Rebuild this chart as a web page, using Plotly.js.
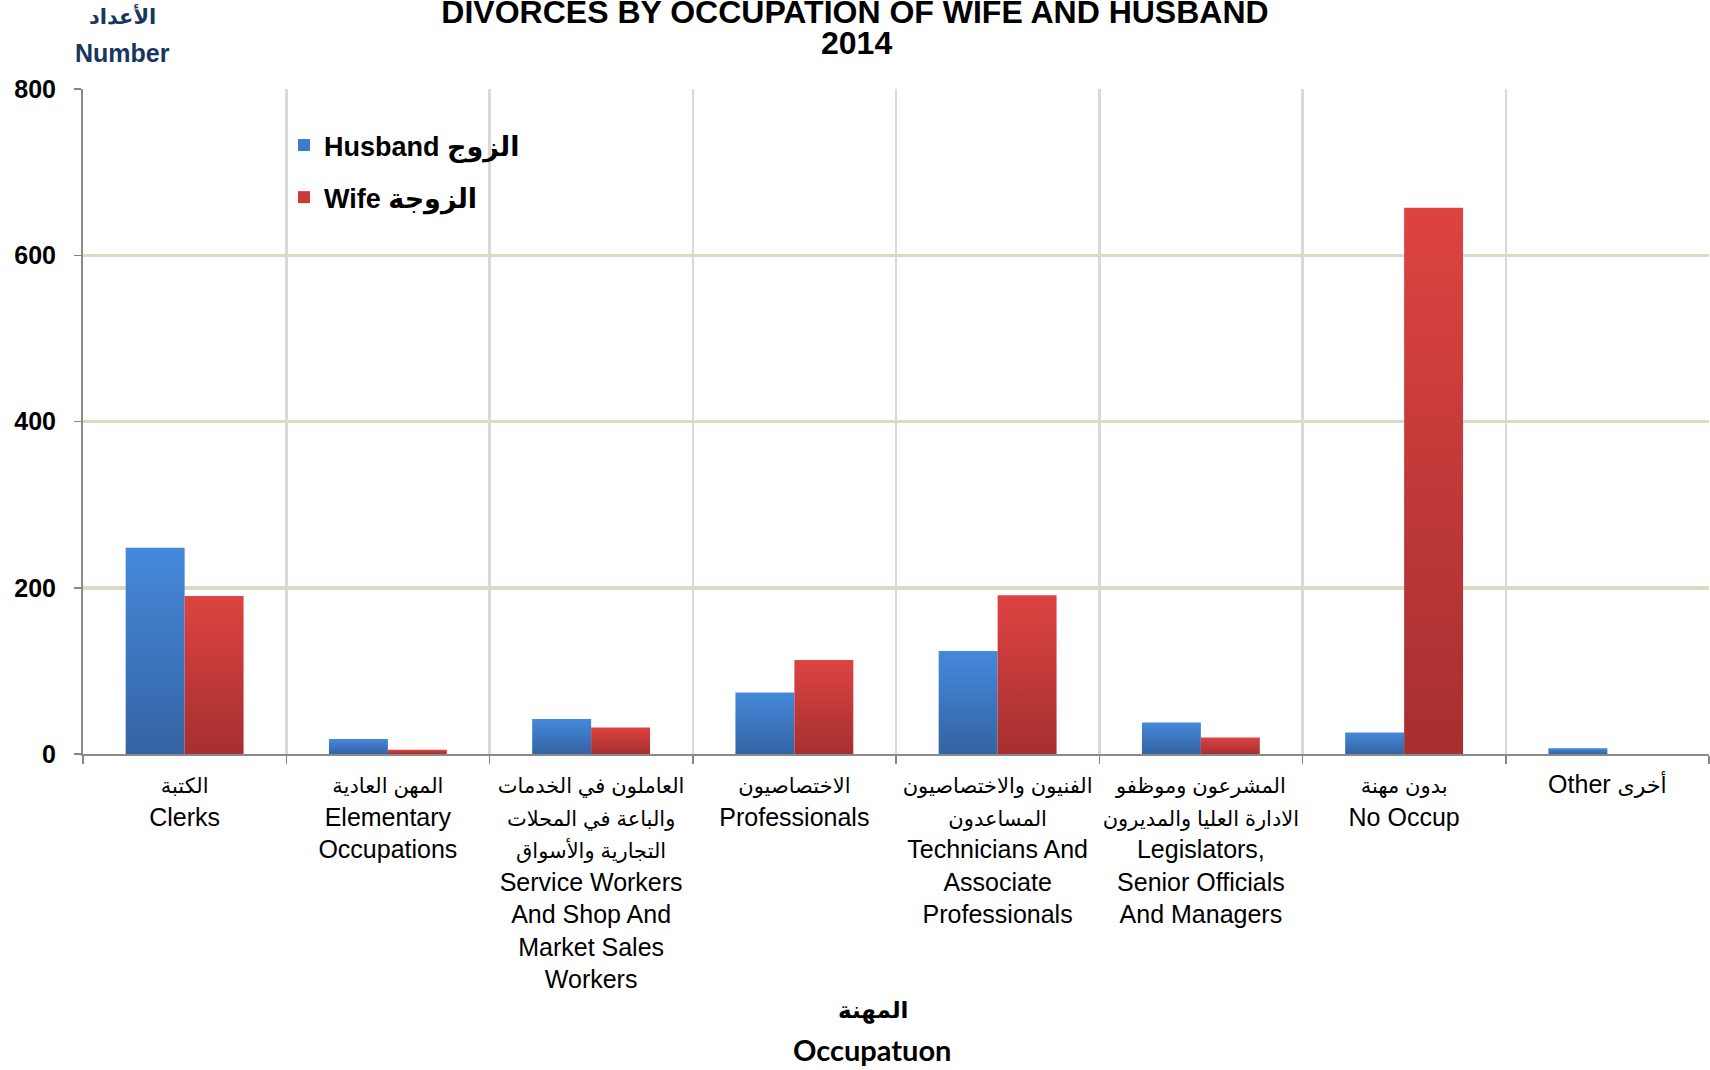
<!DOCTYPE html>
<html>
<head>
<meta charset="utf-8">
<script src="https://cdn.plot.ly/plotly-3.0.1.min.js"></script>
<style>
  html, body { margin: 0; padding: 0; background: #ffffff; }
  #chart { width: 1710px; height: 1070px; }
</style>
</head>
<body>
<div id="chart"></div>
<script>
// ---- Data ----
const categoriesEn = [
  "Clerks",
  "Elementary<br>Occupations",
  "Service Workers<br>And Shop And<br>Market Sales<br>Workers",
  "Professionals",
  "Technicians And<br>Associate<br>Professionals",
  "Legislators,<br>Senior Officials<br>And Managers",
  "No Occup",
  "Other"
];
const categoriesAr = [
  "الكتبة",
  "المهن العادية",
  "العاملون في الخدمات<br>والباعة في المحلات<br>التجارية والأسواق",
  "الاختصاصيون",
  "الفنيون والاختصاصيون<br>المساعدون",
  "المشرعون وموظفو<br>الادارة العليا والمديرون",
  "بدون مهنة",
  "أخرى"
];
const husbandValues = [248, 18, 42, 74, 124, 38, 26, 7];
const wifeValues    = [190, 5, 32, 113, 191, 20, 657, 0];
const husbandName = "Husband الزوج";
const wifeName = "Wife الزوجة";
const yTickVals = [0, 200, 400, 600, 800];
const titleLine1 = "DIVORCES BY OCCUPATION OF WIFE AND HUSBAND";
const titleLine2 = "2014";

// ---- Build tick labels ----
const catKeys = categoriesEn.map((c, i) => "c" + i);
const tickText = categoriesEn.map((en, i) => {
  const ar = categoriesAr[i].split("<br>").map(s => '<span style="font-size:21px">' + s + '</span>').join("<br>");
  if (i === categoriesEn.length - 1) {
    return en + ' <span style="font-size:22px">' + categoriesAr[i] + '</span>';
  }
  return ar + "<br>" + en;
});

const FONT = "Liberation Sans, Arial, DejaVu Sans, sans-serif";

const traces = [
  {
    type: "bar",
    name: husbandName,
    x: catKeys,
    y: husbandValues,
    legendgroup: "h",
    marker: { color: "#3E7BC9" },
    hoverinfo: "y+name"
  },
  {
    type: "bar",
    name: wifeName,
    x: catKeys,
    y: wifeValues,
    legendgroup: "w",
    marker: { color: "#C93C3A" },
    hoverinfo: "y+name"
  }
];

const plotTop = 89, plotBottom = 754, plotH = plotBottom - plotTop;
const plotLeft = 83, plotW = 1710 - 1 - plotLeft;
const py = (px) => (plotBottom - px) / plotH;
const pxX = (px) => (px - plotLeft) / plotW;

const layout = {
  width: 1710,
  height: 1070,
  paper_bgcolor: "#ffffff",
  plot_bgcolor: "#ffffff",
  margin: { l: plotLeft, r: 1, t: plotTop, b: 1070 - plotBottom, pad: 0 },
  font: { family: FONT, color: "#000000" },
  title: {
    text: titleLine1,
    font: { family: FONT, size: 32, weight: "bold", color: "#000000" },
    x: 0.5, xref: "container", xanchor: "center",
    y: 1 - 12 / 1070, yref: "container", yanchor: "middle"
  },
  barmode: "group",
  bargap: 0.42,
  bargroupgap: 0,
  showlegend: true,
  legend: {
    x: pxX(284), xanchor: "left",
    y: py(121), yanchor: "top",
    font: { family: FONT, size: 27, weight: "bold", color: "#000000" },
    bgcolor: "rgba(0,0,0,0)",
    traceorder: "grouped",
    tracegroupgap: 14
  },
  xaxis: {
    type: "category",
    tickvals: catKeys,
    ticktext: tickText,
    range: [-0.5, categoriesEn.length - 0.5],
    tickson: "boundaries",
    ticks: "outside",
    ticklen: 8,
    tickwidth: 1.5,
    tickcolor: "#868686",
    showgrid: true,
    gridcolor: "#d9d9d9",
    gridwidth: 2.5,
    showline: true,
    linecolor: "#8a8a8a",
    linewidth: 2,
    tickfont: { family: FONT, size: 25, color: "#000000" },
    tickangle: 0,
    ticklabelstandoff: 7,
    automargin: false,
    fixedrange: true
  },
  yaxis: {
    range: [0, 800],
    tickvals: yTickVals,
    ticks: "outside",
    ticklen: 7,
    tickwidth: 1.5,
    tickcolor: "#868686",
    showline: true,
    linecolor: "#8a8a8a",
    linewidth: 2,
    showgrid: true,
    gridcolor: "#ddd9c3",
    gridwidth: 3.5,
    zeroline: false,
    tickfont: { family: FONT, size: 25, weight: "bold", color: "#000000" },
    ticklabelstandoff: 13,
    automargin: false,
    fixedrange: true
  },
  annotations: [
    {
      text: titleLine2, xref: "paper", yref: "paper",
      x: pxX(856), y: py(43), xanchor: "center", yanchor: "middle",
      showarrow: false,
      font: { family: FONT, size: 32, weight: "bold", color: "#000000" }
    },
    {
      text: "الأعداد", xref: "paper", yref: "paper",
      x: pxX(122), y: py(16), xanchor: "center", yanchor: "middle",
      showarrow: false,
      font: { family: "DejaVu Sans, sans-serif", size: 21, weight: "bold", color: "#17375E" }
    },
    {
      text: "Number", xref: "paper", yref: "paper",
      x: pxX(122), y: py(53), xanchor: "center", yanchor: "middle",
      showarrow: false,
      font: { family: FONT, size: 25, weight: "bold", color: "#17375E" }
    },
    {
      text: "المهنة", xref: "paper", yref: "paper",
      x: pxX(873), y: py(1010), xanchor: "center", yanchor: "middle",
      showarrow: false,
      font: { family: "DejaVu Sans, sans-serif", size: 23, weight: "bold", color: "#000000" }
    },
    {
      text: "Occupatuon", xref: "paper", yref: "paper",
      x: pxX(872), y: py(1049), xanchor: "center", yanchor: "middle",
      showarrow: false,
      font: { family: "Lato, " + FONT, size: 29, weight: "bold", color: "#000000" }
    }
  ]
};

Plotly.newPlot("chart", traces, layout, { displayModeBar: false, staticPlot: true }).then(function (gd) {
  // apply vertical gradients to the bars (style only)
  const svg = gd.querySelector("svg.main-svg");
  const ns = "http://www.w3.org/2000/svg";
  let defs = svg.querySelector("defs");
  if (!defs) { defs = document.createElementNS(ns, "defs"); svg.insertBefore(defs, svg.firstChild); }
  function addGrad(id, top, bottom) {
    const g = document.createElementNS(ns, "linearGradient");
    g.setAttribute("id", id);
    g.setAttribute("x1", "0"); g.setAttribute("y1", "0");
    g.setAttribute("x2", "0"); g.setAttribute("y2", "1");
    const s1 = document.createElementNS(ns, "stop");
    s1.setAttribute("offset", "0"); s1.setAttribute("stop-color", top);
    const s2 = document.createElementNS(ns, "stop");
    s2.setAttribute("offset", "1"); s2.setAttribute("stop-color", bottom);
    g.appendChild(s1); g.appendChild(s2); defs.appendChild(g);
  }
  addGrad("gradBlue", "#4589DB", "#3463A3");
  addGrad("gradRed", "#DD4341", "#A62F30");
  const barTraces = gd.querySelectorAll(".barlayer .trace.bars");
  const ids = ["gradBlue", "gradRed"];
  barTraces.forEach(function (t, i) {
    t.querySelectorAll("path").forEach(function (p) {
      p.style.fill = "url(#" + ids[i % 2] + ")";
    });
  });
});
</script>
</body>
</html>
